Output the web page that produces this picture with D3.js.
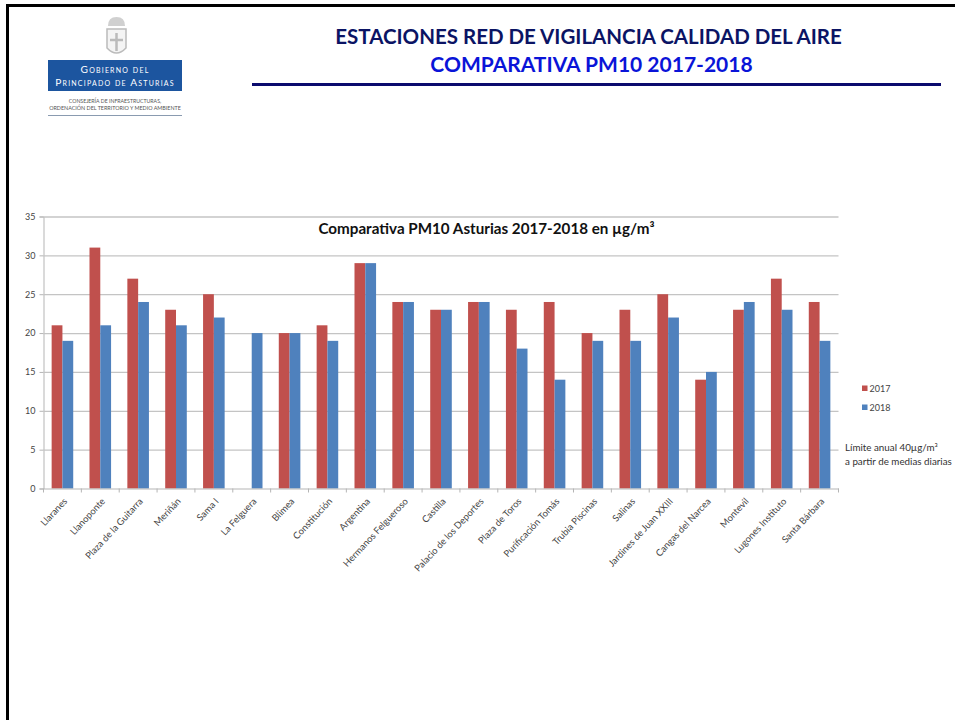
<!DOCTYPE html>
<html><head><meta charset="utf-8">
<script src="https://cdn.jsdelivr.net/npm/d3@7/dist/d3.min.js"></script>
<style>html,body{margin:0;padding:0;background:#fff}svg{display:block}text{font-family:Lato,"Open Sans",sans-serif}</style>
</head><body><svg id="c" width="955" height="720"></svg>
<script>
const categories=["Llaranes","Llanoponte","Plaza de la Guitarra","Meriñán","Sama I","La Felguera","Blimea","Constitución","Argentina","Hermanos Felgueroso","Castilla","Palacio de los Deportes","Plaza de Toros","Purificación Tomás","Trubia Piscinas","Salinas","Jardines de Juan XXIII","Cangas del Narcea","Montevil","Lugones Instituto","Santa Bárbara"];
const values2017=[21,31,27,23,25,null,20,21,29,24,23,24,23,24,20,23,25,14,23,27,24];
const values2018=[19,21,24,21,22,20,20,19,29,24,23,24,18,14,19,19,22,15,24,23,19];
const yTicks=[0,5,10,15,20,25,30,35];
const seriesNames=["2017","2018"];
const seriesColors=["#C0504D","#4F81BD"];

const svg=d3.select("#c");
// slide frame
svg.append("path").attr("d","M7.5 720V5.5H955").attr("fill","none").attr("stroke","#000").attr("stroke-width",3);
// header
svg.append("text").attr("x",588.5).attr("y",44).attr("text-anchor","middle").attr("font-size",20.5).attr("font-weight",700).attr("fill","#0B1464").text("ESTACIONES RED DE VIGILANCIA CALIDAD DEL AIRE");
svg.append("text").attr("x",591.5).attr("y",72).attr("text-anchor","middle").attr("font-size",21).attr("font-weight",700).attr("fill","#0A14D8").text("COMPARATIVA PM10 2017-2018");
svg.append("rect").attr("x",252).attr("y",83).attr("width",689).attr("height",3).attr("fill","#0B0B6E");
// logo
const logo=svg.append("g");
logo.append("rect").attr("x",48).attr("y",60).attr("width",134).attr("height",31).attr("fill","#1C559F");
logo.append("path").attr("d","M107 29h19v19q-9.500 10-19 0z").attr("fill","#f4f4f4").attr("stroke","#bbb").attr("stroke-width",1.5);
logo.append("path").attr("d","M116.500 33v18M110 40h13").attr("stroke","#bbb").attr("stroke-width",2.5);
logo.append("path").attr("d","M108 26q0-9 8.500-9t8.500 9z").attr("fill","#d0d0d0");
logo.append("text").attr("x",115).attr("y",72.5).attr("text-anchor","middle").attr("font-size",10.2).attr("letter-spacing",1.2).attr("font-variant","small-caps").attr("fill","#fff").text("Gobierno del");
logo.append("text").attr("x",115).attr("y",85.5).attr("text-anchor","middle").attr("font-size",10.2).attr("letter-spacing",1.2).attr("font-variant","small-caps").attr("fill","#fff").text("Principado de Asturias");
logo.append("text").attr("x",115).attr("y",103).attr("text-anchor","middle").attr("font-size",5.2).attr("fill","#555").text("CONSEJERÍA DE INFRAESTRUCTURAS,");
logo.append("text").attr("x",115).attr("y",110).attr("text-anchor","middle").attr("font-size",5.4).attr("fill","#555").text("ORDENACIÓN DEL TERRITORIO Y MEDIO AMBIENTE");
logo.append("rect").attr("x",48).attr("y",115).attr("width",134).attr("height",1).attr("fill","#8a9bb0");

// chart
const x0=d3.scaleBand().domain(categories).range([43.5,838.5]).paddingInner(0.43).paddingOuter(0.215);
const x1=d3.scaleBand().domain(seriesNames).range([0,x0.bandwidth()]);
const y=d3.scaleLinear().domain([0,35]).range([488.5,216.5]);
const color=d3.scaleOrdinal(seriesNames,seriesColors);
const step=x0.step();

const gy=svg.append("g").attr("transform","translate(43.5,0)").call(d3.axisLeft(y).tickValues(yTicks).tickSize(4).tickPadding(4));
gy.select(".domain").attr("stroke","#b5b5b5");
gy.selectAll("line").attr("stroke","#b5b5b5");
gy.selectAll("text").attr("font-size",9).attr("fill","#444");
const grid=svg.append("g");
grid.selectAll("line").data(yTicks.filter(d=>d>0)).join("line")
 .attr("x1",43.5).attr("x2",838.5).attr("y1",d=>y(d)+.5).attr("y2",d=>y(d)+.5).attr("stroke","#c4c4c4").attr("stroke-width",1.3);

[values2017,values2018].forEach((vals,i)=>{
 svg.append("g").selectAll("rect").data(vals.map((v,j)=>({v,c:categories[j]})).filter(d=>d.v!=null)).join("rect")
  .attr("x",d=>x0(d.c)+x1(seriesNames[i]))
  .attr("width",x1.bandwidth())
  .attr("y",d=>y(d.v))
  .attr("height",d=>y(0)-y(d.v))
  .attr("fill",color(seriesNames[i]));
});

const gx=svg.append("g").attr("transform","translate(0,488.5)").call(d3.axisBottom(x0).tickSize(0).tickPadding(0));
gx.select(".domain").attr("stroke","#b5b5b5");
gx.selectAll("text").remove();
gx.selectAll(".tick").append("line").attr("x1",step/2).attr("x2",step/2).attr("y1",0).attr("y2",4).attr("stroke","#b5b5b5");
gx.append("line").attr("x1",43.5).attr("x2",43.5).attr("y1",0).attr("y2",4).attr("stroke","#b5b5b5");
gx.selectAll(".tick").append("text")
 .attr("transform","translate(3,11) rotate(-47)")
 .attr("text-anchor","end").attr("font-size",9.4).attr("fill","#444").attr("dy",".35em")
 .text(d=>d);

svg.append("text").attr("x",486.5).attr("y",234).attr("text-anchor","middle").attr("font-size",15.2).attr("font-weight",700).attr("fill","#111").text("Comparativa PM10 Asturias 2017-2018 en µg/m³");

// legend
const leg=svg.append("g").selectAll("g").data(seriesNames).join("g").attr("transform",(d,i)=>`translate(862,${385.5+i*19})`);
leg.append("rect").attr("width",5.5).attr("height",5.5).attr("fill",d=>color(d));
leg.append("text").attr("x",7.5).attr("y",6.5).attr("font-size",9).attr("fill","#444").text(d=>d);
svg.append("text").attr("x",845).attr("y",451).attr("font-size",9.8).attr("fill","#333").text("Límite anual 40µg/m³");
svg.append("text").attr("x",845).attr("y",465).attr("font-size",9.8).attr("fill","#333").text("a partir de medias diarias");
</script></body></html>
